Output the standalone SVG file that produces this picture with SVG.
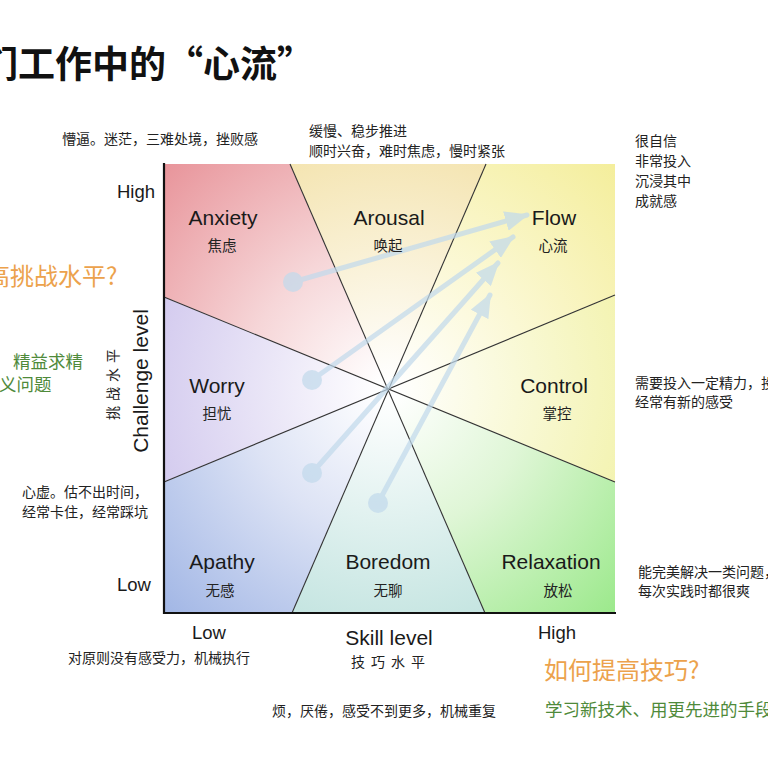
<svg xmlns="http://www.w3.org/2000/svg" width="768" height="768" viewBox="0 0 768 768">
  <defs>
    <style>
      .cn { font-family: "Noto Sans CJK SC", "Noto Sans", sans-serif; }
      .note { font-family: "Noto Sans CJK SC", "Noto Sans", sans-serif; font-size: 14px; fill: #222; }
      .en { font-family: "Liberation Sans", Arial, sans-serif; fill: #1a1a1a; }
      .lab { font-family: "Liberation Sans", Arial, sans-serif; font-size: 21px; fill: #1a1a1a; text-anchor: middle; }
      .sub { font-family: "Noto Sans CJK SC", sans-serif; font-size: 14.5px; fill: #222; text-anchor: middle; }
      .orange { font-family: "Noto Sans CJK SC", sans-serif; font-size: 24px; fill: #eca24c; }
      .green { font-family: "Noto Sans CJK SC", sans-serif; font-size: 17.5px; fill: #4f8a3a; }
      .wedge-line { stroke: #333; stroke-width: 1.1; fill: none; }
      .arrow { stroke: #c2daec; stroke-width: 5; fill: none; stroke-linecap: round; }
    </style>
    <radialGradient id="gAnx" gradientUnits="userSpaceOnUse" cx="388" cy="389" r="318">
      <stop offset="0.03" stop-color="#ffffff"/>
      <stop offset="0.45" stop-color="#f6d6d8"/>
      <stop offset="1" stop-color="#e8949a"/>
    </radialGradient>
    <radialGradient id="gAro" gradientUnits="userSpaceOnUse" cx="388" cy="389" r="250">
      <stop offset="0.03" stop-color="#ffffff"/>
      <stop offset="1" stop-color="#f4e4b0"/>
    </radialGradient>
    <radialGradient id="gFlow" gradientUnits="userSpaceOnUse" cx="388" cy="389" r="318">
      <stop offset="0.03" stop-color="#ffffff"/>
      <stop offset="0.45" stop-color="#fbf8d4"/>
      <stop offset="1" stop-color="#f4ee9c"/>
    </radialGradient>
    <radialGradient id="gCtl" gradientUnits="userSpaceOnUse" cx="388" cy="389" r="250">
      <stop offset="0.03" stop-color="#ffffff"/>
      <stop offset="1" stop-color="#f3f3b0"/>
    </radialGradient>
    <radialGradient id="gRel" gradientUnits="userSpaceOnUse" cx="388" cy="389" r="318">
      <stop offset="0.03" stop-color="#ffffff"/>
      <stop offset="0.45" stop-color="#dff6d6"/>
      <stop offset="1" stop-color="#9ce98c"/>
    </radialGradient>
    <radialGradient id="gBor" gradientUnits="userSpaceOnUse" cx="388" cy="389" r="250">
      <stop offset="0.03" stop-color="#ffffff"/>
      <stop offset="1" stop-color="#c3e4e0"/>
    </radialGradient>
    <radialGradient id="gApa" gradientUnits="userSpaceOnUse" cx="388" cy="389" r="318">
      <stop offset="0.03" stop-color="#ffffff"/>
      <stop offset="0.45" stop-color="#dde3f5"/>
      <stop offset="1" stop-color="#a1b6e5"/>
    </radialGradient>
    <radialGradient id="gWor" gradientUnits="userSpaceOnUse" cx="388" cy="389" r="250">
      <stop offset="0.03" stop-color="#ffffff"/>
      <stop offset="1" stop-color="#d2c9ee"/>
    </radialGradient>
    <marker id="head" markerUnits="userSpaceOnUse" viewBox="0 0 24 20" refX="22" refY="10" markerWidth="24" markerHeight="20" orient="auto">
      <path d="M0,0 L24,10 L0,20 Z" fill="#c2daec"/>
    </marker>
  </defs>

  <rect x="0" y="0" width="768" height="768" fill="#ffffff"/>

  <!-- Title -->
  <text class="cn" x="-19" y="78" font-size="37" font-weight="bold" fill="#111">们工作中的“心流”</text>

  <!-- Regions -->
  <g id="regions">
    <g id="anxiety"><polygon points="164,164 290,164 388,389 164,297" fill="url(#gAnx)"/></g>
    <g id="arousal"><polygon points="290,164 486,164 388,389" fill="url(#gAro)"/></g>
    <g id="flow"><polygon points="486,164 615,164 615,295 388,389" fill="url(#gFlow)"/></g>
    <g id="control"><polygon points="615,295 615,482 388,389" fill="url(#gCtl)"/></g>
    <g id="relaxation"><polygon points="615,482 615,613 485,613 388,389" fill="url(#gRel)"/></g>
    <g id="boredom"><polygon points="485,613 292,613 388,389" fill="url(#gBor)"/></g>
    <g id="apathy"><polygon points="292,613 164,613 164,482 388,389" fill="url(#gApa)"/></g>
    <g id="worry"><polygon points="164,482 164,297 388,389" fill="url(#gWor)"/></g>
  </g>

  <!-- Wedge boundaries -->
  <g id="boundaries">
    <line class="wedge-line" x1="290" y1="164" x2="485" y2="613"/>
    <line class="wedge-line" x1="486" y1="164" x2="292" y2="613"/>
    <line class="wedge-line" x1="164" y1="297" x2="615" y2="482"/>
    <line class="wedge-line" x1="164" y1="482" x2="615" y2="295"/>
  </g>

  <!-- Axes -->
  <g id="axes">
    <line x1="164" y1="163" x2="164" y2="614" stroke="#111" stroke-width="2.2"/>
    <line x1="163" y1="613" x2="616" y2="613" stroke="#111" stroke-width="2.2"/>
  </g>

  <!-- Connectors (arrows) -->
  <g id="connectors" opacity="0.72">
    <circle cx="293" cy="282" r="10" fill="#c2daec"/>
    <circle cx="312" cy="380" r="10" fill="#c2daec"/>
    <circle cx="312" cy="473" r="10" fill="#c2daec"/>
    <circle cx="378" cy="503" r="10" fill="#c2daec"/>
    <line class="arrow" x1="293" y1="282" x2="527" y2="215" marker-end="url(#head)"/>
    <line class="arrow" x1="312" y1="380" x2="513" y2="237" marker-end="url(#head)"/>
    <line class="arrow" x1="312" y1="473" x2="498" y2="263" marker-end="url(#head)"/>
    <line class="arrow" x1="378" y1="503" x2="490" y2="295" marker-end="url(#head)"/>
  </g>

  <!-- Region labels -->
  <g id="label-anxiety"><text class="lab" x="223" y="225">Anxiety</text><text class="sub" x="222" y="251">焦虑</text></g>
  <g id="label-arousal"><text class="lab" x="389" y="225">Arousal</text><text class="sub" x="388" y="251">唤起</text></g>
  <g id="label-flow"><text class="lab" x="554" y="225">Flow</text><text class="sub" x="553" y="251">心流</text></g>
  <g id="label-worry"><text class="lab" x="217" y="393">Worry</text><text class="sub" x="217" y="419">担忧</text></g>
  <g id="label-control"><text class="lab" x="554" y="393">Control</text><text class="sub" x="557" y="419">掌控</text></g>
  <g id="label-apathy"><text class="lab" x="222" y="569">Apathy</text><text class="sub" x="220" y="596">无感</text></g>
  <g id="label-boredom"><text class="lab" x="388" y="569">Boredom</text><text class="sub" x="388" y="596">无聊</text></g>
  <g id="label-relaxation"><text class="lab" x="551" y="569">Relaxation</text><text class="sub" x="558" y="596">放松</text></g>

  <!-- Axis labels -->
  <g id="axis-labels">
    <text class="en" x="117" y="198" font-size="18.5">High</text>
    <text class="en" x="117" y="591" font-size="18.5">Low</text>
    <text class="en" x="192" y="639" font-size="18.5">Low</text>
    <text class="en" x="538" y="639" font-size="18.5">High</text>
    <text class="en" x="389" y="645" font-size="21" text-anchor="middle">Skill level</text>
    <text class="cn" x="351" y="667" font-size="14" letter-spacing="6" fill="#222">技巧水平</text>
    <text class="en" transform="translate(148,381) rotate(-90)" font-size="21" text-anchor="middle">Challenge level</text>
    <text class="cn" transform="translate(118,420) rotate(-90)" font-size="14" letter-spacing="5" fill="#222">挑战水平</text>
  </g>

  <!-- Notes -->
  <g id="notes">
    <text class="note" x="62" y="144">懵逼。迷茫，三难处境，挫败感</text>
    <text class="note" x="309" y="136">缓慢、稳步推进</text>
    <text class="note" x="309" y="156">顺时兴奋，难时焦虑，慢时紧张</text>
    <text class="note" x="635" y="146">很自信</text>
    <text class="note" x="635" y="166">非常投入</text>
    <text class="note" x="635" y="186">沉浸其中</text>
    <text class="note" x="635" y="206">成就感</text>
    <text class="note" x="635" y="388">需要投入一定精力，投入</text>
    <text class="note" x="635" y="407">经常有新的感受</text>
    <text class="note" x="22" y="497">心虚。估不出时间，</text>
    <text class="note" x="22" y="517">经常卡住，经常踩坑</text>
    <text class="note" x="638" y="577">能完美解决一类问题，</text>
    <text class="note" x="638" y="596">每次实践时都很爽</text>
    <text class="note" x="68" y="663">对原则没有感受力，机械执行</text>
    <text class="note" x="272" y="716">烦，厌倦，感受不到更多，机械重复</text>
  </g>

  <!-- Side questions -->
  <g id="questions">
    <text class="orange" x="-86" y="285">如何提高挑战水平?</text>
    <text class="green" x="13" y="368">精益求精</text>
    <text class="green" x="-1" y="391">义问题</text>
    <text class="orange" x="544" y="679">如何提高技巧?</text>
    <text class="green" x="545" y="716" font-size="18">学习新技术、用更先进的手段</text>
  </g>
</svg>
